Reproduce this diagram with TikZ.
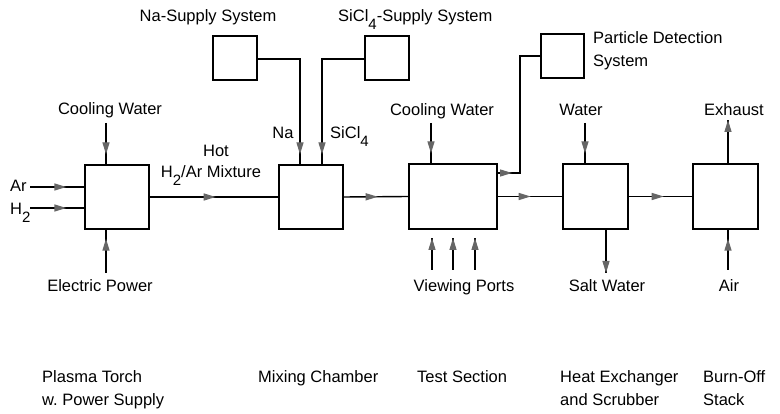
\documentclass[tikz,border=0pt]{standalone}
\usepackage{fontspec}
\setmainfont{Liberation Sans}
\usetikzlibrary{arrows.meta, decorations.markings}

\newcommand{\lowsub}[1]{\raisebox{-8pt}{\fontsize{15}{15}\selectfont #1}}

\tikzset{
  box/.style={draw, line width=1.4pt, inner sep=0pt},
  lbl/.style={font=\fontsize{16.5}{23}\selectfont, inner sep=0pt},
  pipe/.style={line width=1.4pt},
  tipat/.style={postaction={decorate}, decoration={markings,
    mark=at position #1 with {\arrow{Triangle[length=12pt,width=7pt,color=black!60]}}}},
}

\begin{document}
\begin{tikzpicture}[x=1pt, y=-1pt]
  \useasboundingbox (0,0) rectangle (780,414);

  % === Main units ===
  \node[box, minimum width=64pt, minimum height=64pt] (torch) at (117,197) {};
  \node[box, minimum width=64pt, minimum height=64pt] (mixer) at (311,197) {};
  \node[box, minimum width=88pt, minimum height=65pt] (test)  at (453,196.5) {};
  \node[box, minimum width=65pt, minimum height=65pt] (hx)    at (595.5,196.5) {};
  \node[box, minimum width=65pt, minimum height=65pt] (stack) at (725.5,196.5) {};

  % === Supply and detection boxes ===
  \node[box, minimum width=44pt, minimum height=44pt] (nasup) at (235,58) {};
  \node[box, minimum width=44pt, minimum height=44pt] (sisup) at (387,58) {};
  \node[box, minimum width=43pt, minimum height=44pt] (pds)   at (562.5,56) {};

  % === Labels ===
  \node[lbl, anchor=base] (nasupl) at (208,22) {Na-Supply System};
  \node[lbl, anchor=base west] (sisupl) at (338,22) {SiCl\lowsub{4}-Supply System};
  \node[lbl, anchor=base west, align=left] (pdsl) at (593,67) {Particle Detection\\System};
  \node[lbl, anchor=base] (cw1) at (110,115) {Cooling Water};
  \node[lbl, anchor=base] (cw2) at (442,116) {Cooling Water};
  \node[lbl, anchor=base] (water) at (581,116) {Water};
  \node[lbl, anchor=base] (exhaust) at (734,116) {Exhaust};
  \node[lbl, anchor=base] (hot) at (216,157) {Hot};
  \node[lbl, anchor=base] (mixture) at (211,178) {H\lowsub{2}/Ar Mixture};
  \node[lbl, anchor=base] (na) at (283,139) {Na};
  \node[lbl, anchor=base west] (sicl) at (330,139) {SiCl\lowsub{4}};
  \node[lbl, anchor=base west] (ar) at (10,192) {Ar};
  \node[lbl, anchor=base west] (h2) at (10,215) {H\lowsub{2}};
  \node[lbl, anchor=base] (power) at (100,292) {Electric Power};
  \node[lbl, anchor=base] (ports) at (464,292) {Viewing Ports};
  \node[lbl, anchor=base] (salt) at (607,292) {Salt Water};
  \node[lbl, anchor=base] (air) at (729,292) {Air};

  % === Unit names ===
  \node[lbl, anchor=base west, align=left] (torchn) at (42,406) {Plasma Torch\\w.\ Power Supply};
  \node[lbl, anchor=base west] (mixern) at (258,383) {Mixing Chamber};
  \node[lbl, anchor=base west] (testn) at (417,383) {Test Section};
  \node[lbl, anchor=base west, align=left] (hxn) at (560,406) {Heat Exchanger\\and Scrubber};
  \node[lbl, anchor=base west, align=left] (stackn) at (703,406) {Burn-Off\\Stack};

  % === Arrow start points ===
  \coordinate (arin) at (30,187);
  \coordinate (h2in) at (30,208);
  \coordinate (cw1in) at (106,123);
  \coordinate (powin) at (106,273);
  \coordinate (nabend) at (300,59);
  \coordinate (sibend) at (322,59);
  \coordinate (cw2in) at (431,123);
  \coordinate (pdsout) at (497,173);
  \coordinate (pdsbend) at (520,173);
  \coordinate (waterin) at (585,123);
  \coordinate (saltout) at (606,273);
  \coordinate (exout) at (728,120);
  \coordinate (airin) at (728,270);
  \coordinate (port1) at (432,270);
  \coordinate (port2) at (453,270);
  \coordinate (port3) at (475,270);

  % === Plasma torch feeds ===
  \draw[pipe, tipat=-18pt] (arin) -- (arin -| torch.west);
  \draw[pipe, tipat=-18pt] (h2in) -- (h2in -| torch.west);
  \draw[pipe, tipat=-10pt] (cw1in) -- (cw1in |- torch.north);
  \draw[pipe, tipat=-9pt] (powin) -- (powin |- torch.south);

  % === Main flow ===
  \draw[pipe, tipat=66pt] (torch.east) -- (mixer.west);
  \draw[pipe, tipat=34pt] (mixer.east) -- (test.west);
  \draw[pipe, tipat=33pt] (test.east) -- (hx.west);
  \draw[pipe, tipat=35pt] (hx.east) -- (stack.west);

  % === Supply lines ===
  \draw[pipe, tipat=-10pt] (nasup.east |- nabend) -- (nabend) -- (nabend |- mixer.north);
  \draw[pipe, tipat=-10pt] (sisup.west |- sibend) -- (sibend) -- (sibend |- mixer.north);

  % === Test section ===
  \draw[pipe, tipat=-10pt] (cw2in) -- (cw2in |- test.north);
  \draw[pipe, tipat=15pt] (pdsout) -- (pdsbend) -- (pdsbend |- pds.west) -- (pds.west);
  \foreach \p in {port1, port2, port3}
    \draw[pipe, tipat=1] (\p) -- ++(0,-32);

  % === Heat exchanger and stack ===
  \draw[pipe, tipat=-10pt] (waterin) -- (waterin |- hx.north);
  \draw[pipe, tipat=1] (saltout |- hx.south) -- (saltout);
  \draw[pipe, tipat=1] (exout |- stack.north) -- (exout);
  \draw[pipe, tipat=-9pt] (airin) -- (airin |- stack.south);

\end{tikzpicture}
\end{document}
